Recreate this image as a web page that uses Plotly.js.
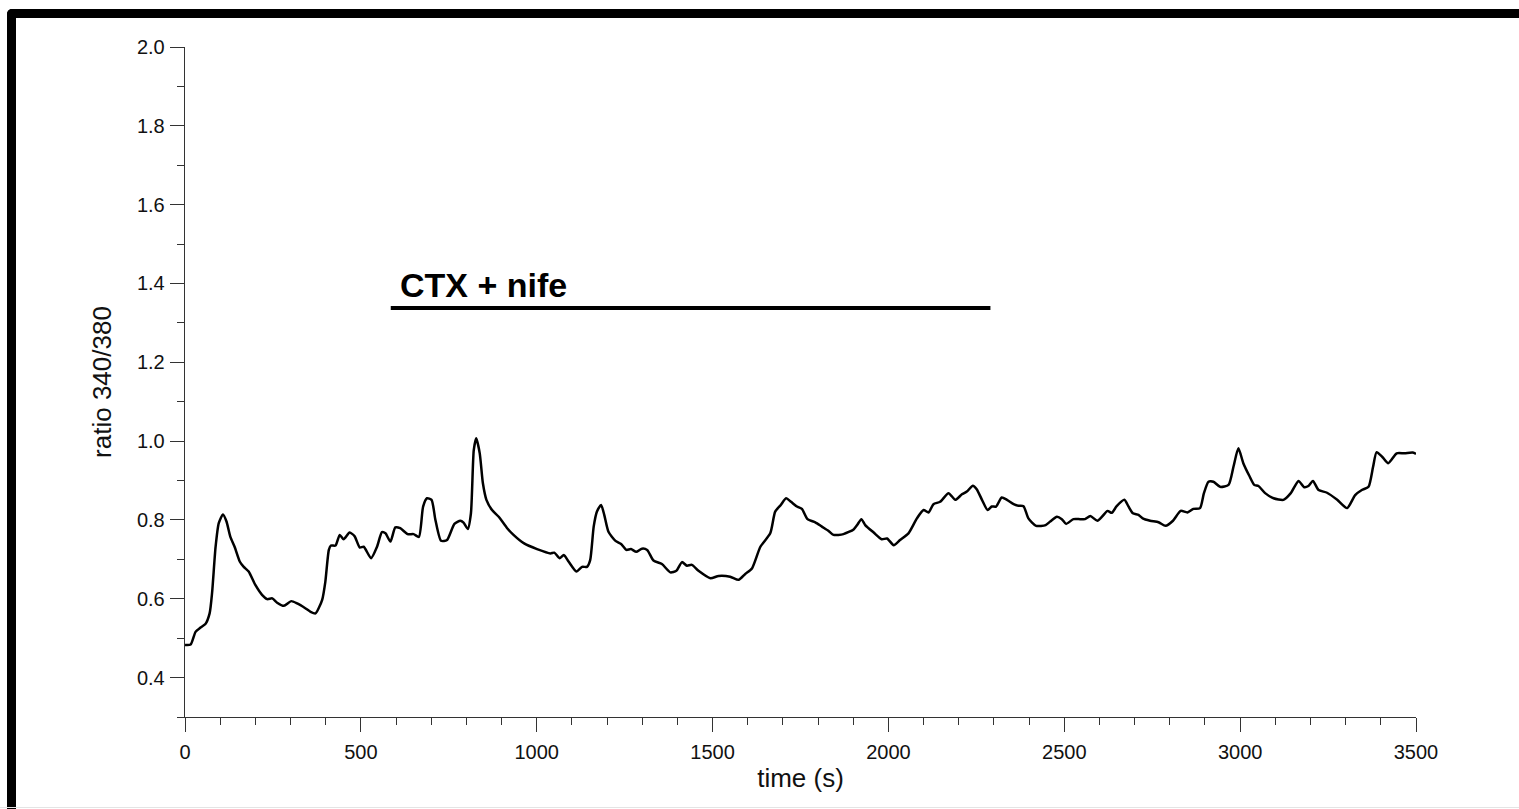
<!DOCTYPE html>
<html>
<head>
<meta charset="utf-8">
<script src="https://cdn.plot.ly/plotly-3.0.1.min.js"></script>
<style>
  html, body { margin: 0; padding: 0; background: #fff; overflow: hidden; }
  #chart { position: absolute; left: 0; top: 0; width: 1519px; height: 809px; }
  #frame { position: absolute; left: 7px; top: 9px; width: 1600px; height: 900px;
           border-left: 9px solid #000; border-top: 9px solid #000; border-top-left-radius: 5px;
           pointer-events: none; }
  #bottomline { position: absolute; left: 0; top: 807px; width: 1519px; height: 0;
                border-bottom: 1px solid #e4e4e4; pointer-events: none; }
</style>
</head>
<body>
<div id="chart"></div>
<div id="frame"></div>
<div id="bottomline"></div>
<script>
// time (s)
const timeS = [0,16,30,44,58,70,77,87,96,108,118,129,141,156,167,181,200,219,234,248,262,281,302,319,342,357,371,380,390,399,409,415,428,440,451,468,482,497,508,529,546,560,570,584,598,612,633,650,665,677,688,701,712,728,745,766,783,792,804,813,821,828,838,847,857,873,892,916,934,963,1001,1039,1050,1065,1077,1091,1113,1129,1143,1152,1162,1171,1183,1192,1204,1224,1240,1255,1268,1283,1299,1314,1332,1356,1380,1397,1413,1427,1441,1460,1494,1517,1550,1574,1593,1612,1636,1664,1678,1694,1709,1723,1740,1754,1770,1792,1811,1830,1844,1872,1901,1911,1923,1934,1958,1981,1996,2015,2033,2057,2081,2100,2114,2128,2147,2171,2190,2209,2223,2240,2251,2266,2282,2294,2306,2322,2337,2356,2370,2384,2398,2420,2447,2460,2479,2493,2505,2526,2545,2559,2574,2594,2609,2623,2635,2649,2671,2682,2695,2711,2723,2744,2768,2788,2809,2831,2850,2867,2886,2897,2910,2924,2943,2967,2981,2995,3009,3026,3040,3052,3071,3095,3123,3144,3166,3182,3194,3207,3223,3247,3276,3304,3327,3346,3365,3378,3388,3405,3421,3445,3467,3490,3500];
// ratio 340/380
const ratio = [0.483,0.484,0.516,0.527,0.536,0.563,0.615,0.732,0.792,0.814,0.796,0.757,0.732,0.694,0.681,0.669,0.635,0.610,0.599,0.601,0.590,0.582,0.594,0.588,0.576,0.567,0.563,0.576,0.597,0.643,0.724,0.735,0.735,0.762,0.751,0.768,0.759,0.730,0.732,0.703,0.732,0.769,0.766,0.745,0.781,0.779,0.764,0.764,0.757,0.834,0.855,0.851,0.800,0.747,0.749,0.790,0.798,0.793,0.777,0.817,0.977,1.007,0.969,0.893,0.851,0.825,0.808,0.779,0.762,0.741,0.726,0.715,0.717,0.703,0.711,0.694,0.669,0.681,0.681,0.698,0.783,0.821,0.838,0.813,0.770,0.747,0.739,0.724,0.726,0.719,0.727,0.724,0.697,0.688,0.667,0.671,0.693,0.684,0.686,0.671,0.652,0.658,0.656,0.648,0.663,0.677,0.732,0.766,0.821,0.838,0.855,0.846,0.834,0.828,0.802,0.794,0.783,0.772,0.762,0.764,0.776,0.787,0.802,0.787,0.768,0.751,0.753,0.736,0.749,0.766,0.804,0.825,0.819,0.840,0.846,0.868,0.851,0.865,0.872,0.887,0.878,0.851,0.825,0.834,0.834,0.857,0.851,0.840,0.836,0.835,0.804,0.785,0.787,0.796,0.808,0.802,0.790,0.802,0.802,0.802,0.810,0.798,0.810,0.823,0.818,0.835,0.851,0.835,0.817,0.813,0.804,0.798,0.794,0.785,0.798,0.823,0.819,0.828,0.830,0.868,0.897,0.897,0.884,0.889,0.935,0.982,0.944,0.912,0.889,0.886,0.868,0.855,0.851,0.868,0.899,0.883,0.886,0.899,0.876,0.869,0.851,0.830,0.863,0.876,0.884,0.935,0.972,0.959,0.944,0.969,0.969,0.971,0.968];

// treatment bar "CTX + nife"
const drugLabel = "CTX + nife";
const drugPeriod = [585, 2290];
const drugLevel = [1.338, 1.338];
const drugLabelPos = [607, 1.395];

const xTickVals = [0, 500, 1000, 1500, 2000, 2500, 3000, 3500];
const yTickVals = [0.4, 0.6, 0.8, 1.0, 1.2, 1.4, 1.6, 1.8, 2.0];

const axisColor = '#333';
const font = 'Liberation Sans, Arial, sans-serif';

const traces = [
  { x: timeS, y: ratio, type: 'scatter', mode: 'lines',
    line: { color: '#000', width: 2.5, shape: 'spline', smoothing: 0.6 }, hoverinfo: 'x+y' },
  { x: drugPeriod, y: drugLevel, type: 'scatter', mode: 'lines',
    line: { color: '#000', width: 4 }, hoverinfo: 'skip' }
];

const layout = {
  width: 1519, height: 809,
  margin: { l: 184.5, r: 103, t: 47, b: 92, pad: 0 },
  paper_bgcolor: '#fff', plot_bgcolor: '#fff',
  showlegend: false,
  font: { family: font, color: '#111', size: 20 },
  xaxis: {
    range: [0, 3500], tickmode: 'array', tickvals: xTickVals, ticktext: xTickVals.map(String),
    ticks: 'outside', ticklen: 14, tickwidth: 1, tickcolor: axisColor,
    showline: true, linecolor: axisColor, linewidth: 1.3,
    showgrid: false, zeroline: false, ticklabelstandoff: 3,
    tickfont: { family: font, size: 20, color: '#111' },
    minor: { dtick: 100, tick0: 0, ticks: 'outside', ticklen: 7, tickwidth: 1, tickcolor: axisColor, showgrid: false },
    title: { text: 'time (s)', font: { family: font, size: 26, color: '#111' }, standoff: 6 }
  },
  yaxis: {
    range: [0.3, 2.0], tickmode: 'array', tickvals: yTickVals, ticktext: yTickVals.map(v => v.toFixed(1)),
    ticks: 'outside', ticklen: 14, tickwidth: 1, tickcolor: axisColor,
    showline: true, linecolor: axisColor, linewidth: 1.3,
    showgrid: false, zeroline: false, ticklabelstandoff: 1,
    tickfont: { family: font, size: 20, color: '#111' },
    minor: { dtick: 0.1, tick0: 0, ticks: 'outside', ticklen: 7, tickwidth: 1, tickcolor: axisColor, showgrid: false },
    title: { text: 'ratio 340/380', font: { family: font, size: 26, color: '#111' }, standoff: 17 }
  },
  annotations: [
    { x: drugLabelPos[0], y: drugLabelPos[1], xref: 'x', yref: 'y', text: '<b>' + drugLabel + '</b>',
      showarrow: false, xanchor: 'left', yanchor: 'middle',
      font: { family: font, size: 34, color: '#000' } }
  ]
};

Plotly.newPlot('chart', traces, layout, { displayModeBar: false, staticPlot: true });
</script>
</body>
</html>
